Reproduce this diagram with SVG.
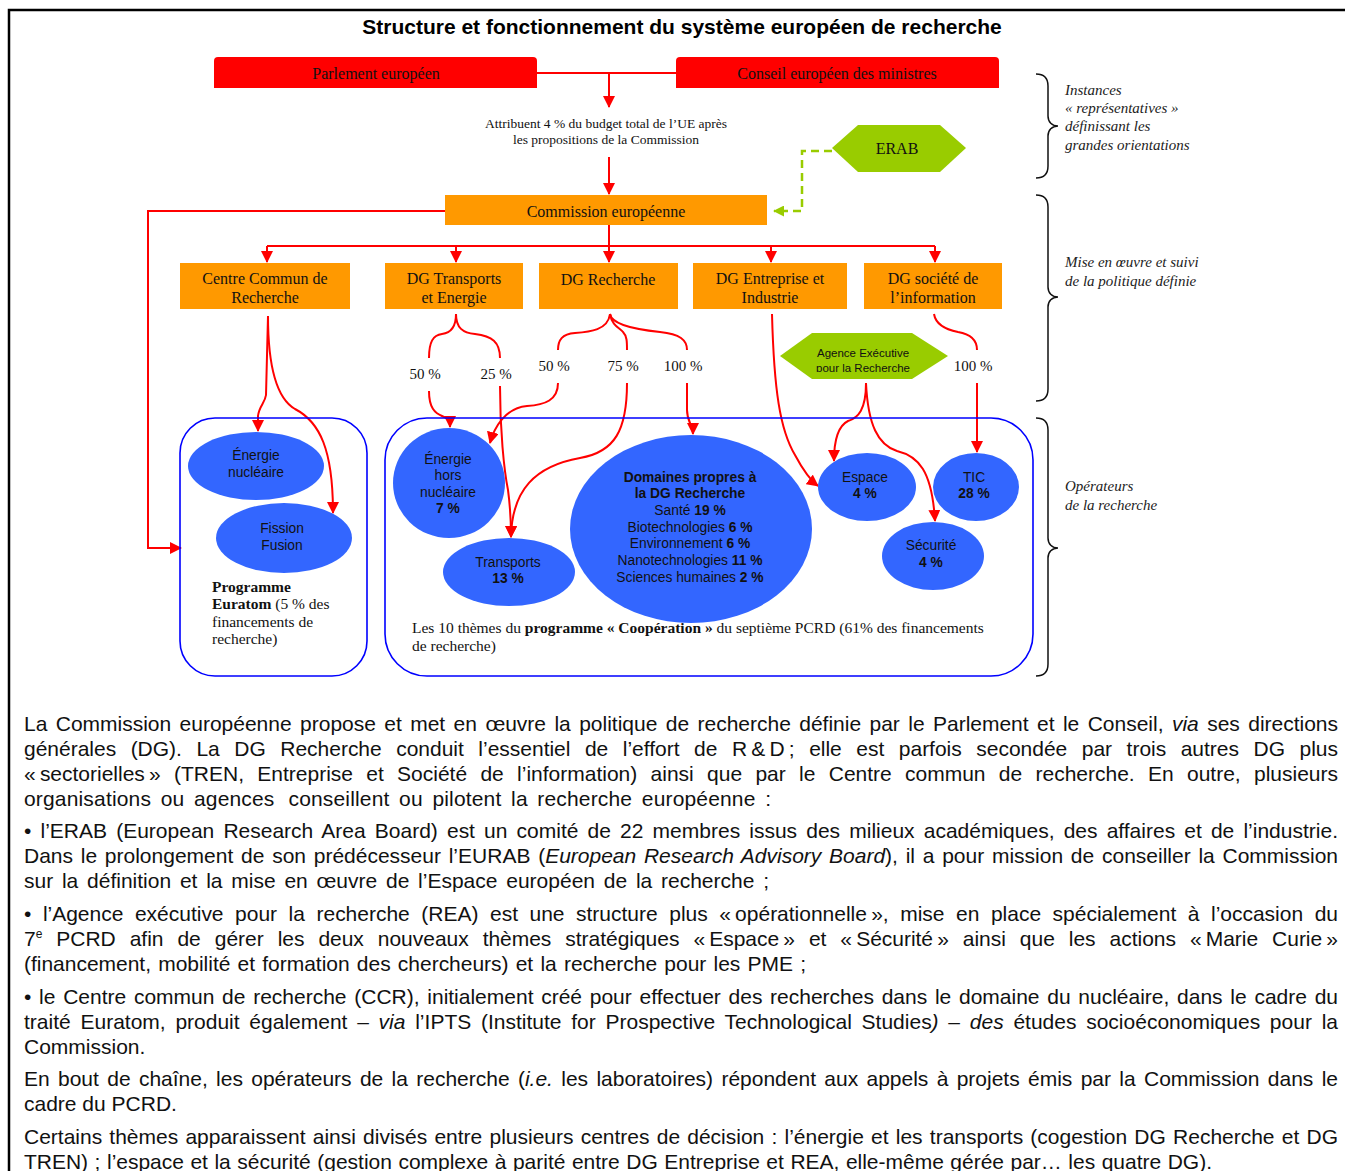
<svg xmlns="http://www.w3.org/2000/svg" width="1345" height="1171" viewBox="0 0 1345 1171">
<defs>
<style>
.r{fill:none;stroke:#ff0000;stroke-width:2}
.ra{marker-end:url(#ar)}
.red{fill:#ff0000}
.or{fill:#ff9900}
.lbl{font-family:"Liberation Serif",serif;font-size:16px;fill:#111;text-anchor:middle}
.pct{font-family:"Liberation Serif",serif;font-size:15px;fill:#111;text-anchor:middle}
.ell{fill:#3366ff}
.et{font-family:"Liberation Sans",Arial,sans-serif;font-size:13.8px;fill:#111;text-anchor:middle}
.b{font-weight:bold}
.i{font-style:italic}
.side{font-family:"Liberation Serif",serif;font-style:italic;font-size:15px;fill:#222}
.body{font-family:"Liberation Sans",Arial,sans-serif;font-size:21px;fill:#111}
.cont{fill:none;stroke:#0000ff;stroke-width:1.6}
.brace{fill:none;stroke:#111;stroke-width:1.5}
</style>
<marker id="ar" viewBox="0 0 12 12" refX="11" refY="6" markerWidth="12" markerHeight="12" markerUnits="userSpaceOnUse" orient="auto"><path d="M0,0 L12,6 L0,12 z" fill="#ff0000"/></marker>
<marker id="ag" viewBox="0 0 12 12" refX="11" refY="6" markerWidth="11" markerHeight="11" markerUnits="userSpaceOnUse" orient="auto"><path d="M0,0 L12,6 L0,12 z" fill="#99cc00"/></marker>
<clipPath id="agclip"><rect x="780" y="330" width="170" height="42"/></clipPath>
</defs>

<g id="frame" fill="none" stroke="#000" stroke-width="2.5">
<path d="M1345,10 L9,10 L9,1171"/>
</g>

<text id="title" x="682" y="34" text-anchor="middle" font-family="Liberation Sans, Arial, sans-serif" font-size="21" font-weight="bold" fill="#000">Structure et fonctionnement du système européen de recherche</text>

<g id="connectors">
<path class="r" d="M537,73 L676,73"/>
<path class="r ra" d="M609,73 L609,107"/>
<path class="r ra" d="M609,157 L609,194"/>
<path class="r ra" d="M445,211 L148,211 L148,548 L181,548"/>
<path class="r ra" d="M609,225 L609,262"/>
<path class="r" d="M267,246 L935,246"/>
<path class="r ra" d="M267,246 L267,262"/>
<path class="r ra" d="M456,246 L456,262"/>
<path class="r ra" d="M771,246 L771,262"/>
<path class="r ra" d="M935,246 L935,262"/>
<path d="M832,151 L802,151 L802,211 L774,211" fill="none" stroke="#99cc00" stroke-width="2.5" stroke-dasharray="8,5" marker-end="url(#ag)"/>
<path class="r ra" d="M268,316 L266,395 C265,403 259,406 258,416 L258,431"/>
<path class="r ra" d="M268,316 C268,365 276,398 295,409 C320,422 333,450 333,513"/>
<path class="r" d="M456,314 C456,328 450,333 442,334 C433,335 429,342 429,358"/>
<path class="r" d="M456,314 C456,328 463,333 475,334 C492,336 500,342 500,358"/>
<path class="r ra" d="M429,391 C429,408 435,413 442,416 C449,419 450,420 450,427"/>
<path class="r ra" d="M500,386 C500,430 504,470 508,490 C510,505 511,520 511,537"/>
<path class="r" d="M610,314 C608,330 590,332 575,333 C562,334 558,340 558,350"/>
<path class="r" d="M610,314 C612,326 620,328 623,332 C627,336 627,342 627,350"/>
<path class="r" d="M610,314 C612,326 640,330 660,332 C680,334 687,340 687,350"/>
<path class="r ra" d="M558,383 C558,400 545,405 527,406 C505,408 494,428 490,443"/>
<path class="r ra" d="M627,383 C627,430 615,452 580,458 C535,466 512,490 511,537"/>
<path class="r ra" d="M687,383 L687,410 C687,422 693,425 693,434"/>
<path class="r ra" d="M772,314 C774,390 780,430 795,455 C803,470 810,480 818,486"/>
<path class="r ra" d="M866,383 C866,410 858,418 848,421 C838,426 834,440 834,461"/>
<path class="r ra" d="M866,383 C868,425 878,445 897,451 C918,456 932,470 935,521"/>
<path class="r" d="M934,314 C936,326 948,330 958,332 C970,334 977,340 977,350"/>
<path class="r ra" d="M977,383 L977,452"/>
</g>

<g id="parlement"><path class="red" d="M214,88 L214,61 Q214,57 218,57 L533,57 Q537,57 537,61 L537,88 Z"/><text class="lbl" x="376" y="79">Parlement européen</text></g>
<g id="conseil"><path class="red" d="M676,88 L676,61 Q676,57 680,57 L995,57 Q999,57 999,61 L999,88 Z"/><text class="lbl" x="837" y="79">Conseil européen des ministres</text></g>
<g id="budget"><text class="lbl" style="font-size:13.5px" x="606" y="128">Attribuent 4 % du budget total de l’UE après</text><text class="lbl" style="font-size:13.5px" x="606" y="144">les propositions de la Commission</text></g>
<g id="erab"><polygon fill="#99cc00" points="832,148 858,125 940,125 966,148 940,172 858,172"/><text class="lbl" x="897" y="154">ERAB</text></g>
<g id="commission"><rect class="or" x="445" y="195" width="322" height="30"/><text class="lbl" x="606" y="217">Commission européenne</text></g>

<g id="ccr"><rect class="or" x="180" y="263" width="170" height="46"/><text class="lbl" x="265" y="284">Centre Commun de</text><text class="lbl" x="265" y="303">Recherche</text></g>
<g id="dgtren"><rect class="or" x="385" y="263" width="138" height="46"/><text class="lbl" x="454" y="284">DG Transports</text><text class="lbl" x="454" y="303">et Energie</text></g>
<g id="dgrech"><rect class="or" x="539" y="263" width="139" height="46"/><text class="lbl" x="608" y="285">DG Recherche</text></g>
<g id="dgent"><rect class="or" x="693" y="263" width="154" height="46"/><text class="lbl" x="770" y="284">DG Entreprise et</text><text class="lbl" x="770" y="303">Industrie</text></g>
<g id="dgsoc"><rect class="or" x="864" y="263" width="138" height="46"/><text class="lbl" x="933" y="284">DG société de</text><text class="lbl" x="933" y="303">l’information</text></g>

<g id="pcts">
<text class="pct" x="425" y="379">50 %</text>
<text class="pct" x="496" y="379">25 %</text>
<text class="pct" x="554" y="371">50 %</text>
<text class="pct" x="623" y="371">75 %</text>
<text class="pct" x="683" y="371">100 %</text>
<text class="pct" x="973" y="371">100 %</text>
</g>

<g id="agence"><polygon fill="#99cc00" points="780,356 812,333 912,333 948,356 912,379 812,379"/><g clip-path="url(#agclip)"><text class="et" style="font-size:11.5px" x="863" y="357">Agence Exécutive</text><text class="et" style="font-size:11.5px" x="863" y="372">pour la Recherche</text></g></g>

<g id="euratom">
<rect class="cont" x="180" y="418" width="187" height="258" rx="35"/>
<text font-family="Liberation Serif, serif" font-size="15.5" fill="#111"><tspan x="212" y="592" font-weight="bold">Programme</tspan><tspan x="212" y="609"><tspan font-weight="bold">Euratom</tspan> (5 % des</tspan><tspan x="212" y="627">financements de</tspan><tspan x="212" y="644">recherche)</tspan></text>
</g>
<g id="cooperation">
<rect class="cont" x="385" y="418" width="648" height="258" rx="42"/>
<text font-family="Liberation Serif, serif" font-size="15.5" fill="#111"><tspan x="412" y="633">Les 10 thèmes du <tspan font-weight="bold">programme « Coopération »</tspan> du septième PCRD (61% des financements</tspan><tspan x="412" y="651">de recherche)</tspan></text>
</g>

<g id="en"><ellipse class="ell" cx="256" cy="466" rx="68" ry="34"/><text class="et" x="256" y="460">Énergie</text><text class="et" x="256" y="477">nucléaire</text></g>
<g id="ff"><ellipse class="ell" cx="284" cy="538" rx="68" ry="35"/><text class="et" x="282" y="533">Fission</text><text class="et" x="282" y="550">Fusion</text></g>
<g id="eh"><ellipse class="ell" cx="449" cy="483" rx="56" ry="55"/><text class="et" x="448" y="464">Énergie</text><text class="et" x="448" y="480">hors</text><text class="et" x="448" y="497">nucléaire</text><text class="et b" x="448" y="513">7 %</text></g>
<g id="tr"><ellipse class="ell" cx="509" cy="572" rx="66" ry="34"/><text class="et" x="508" y="567">Transports</text><text class="et b" x="508" y="583">13 %</text></g>
<g id="dom"><ellipse class="ell" cx="691" cy="529" rx="121" ry="94"/>
<text class="et b" x="690" y="482">Domaines propres à</text>
<text class="et b" x="690" y="498">la DG Recherche</text>
<text class="et" x="690" y="515">Santé <tspan class="b">19 %</tspan></text>
<text class="et" x="690" y="532">Biotechnologies <tspan class="b">6 %</tspan></text>
<text class="et" x="690" y="548">Environnement <tspan class="b">6 %</tspan></text>
<text class="et" x="690" y="565">Nanotechnologies <tspan class="b">11 %</tspan></text>
<text class="et" x="690" y="582">Sciences humaines <tspan class="b">2 %</tspan></text>
</g>
<g id="esp"><ellipse class="ell" cx="867" cy="487" rx="49" ry="34"/><text class="et" x="865" y="482">Espace</text><text class="et b" x="865" y="498">4 %</text></g>
<g id="tic"><ellipse class="ell" cx="976" cy="487" rx="43" ry="34"/><text class="et" x="974" y="482">TIC</text><text class="et b" x="974" y="498">28 %</text></g>
<g id="sec"><ellipse class="ell" cx="933" cy="556" rx="51" ry="34"/><text class="et" x="931" y="550">Sécurité</text><text class="et b" x="931" y="567">4 %</text></g>

<g id="braces">
<path class="brace" d="M1036,74 C1044,74 1048,78 1048,86 L1048,116 C1048,122 1052,126 1058,126 C1052,126 1048,130 1048,136 L1048,166 C1048,174 1044,178 1036,178"/>
<path class="brace" d="M1036,195 C1044,195 1048,199 1048,207 L1048,287 C1048,293 1052,297 1058,297 C1052,297 1048,301 1048,307 L1048,389 C1048,397 1044,401 1036,401"/>
<path class="brace" d="M1036,418 C1044,418 1048,422 1048,430 L1048,538 C1048,544 1052,548 1058,548 C1052,548 1048,552 1048,558 L1048,664 C1048,672 1044,676 1036,676"/>
<text class="side"><tspan x="1065" y="95">Instances</tspan><tspan x="1065" y="113">« représentatives »</tspan><tspan x="1065" y="131">définissant les</tspan><tspan x="1065" y="150">grandes orientations</tspan></text>
<text class="side"><tspan x="1065" y="267">Mise en œuvre et suivi</tspan><tspan x="1065" y="286">de la politique définie</tspan></text>
<text class="side"><tspan x="1065" y="491">Opérateurs</tspan><tspan x="1065" y="510">de la recherche</tspan></text>
</g>

<g id="bodytext" class="body">
<text x="24" y="731" word-spacing="2.6" textLength="1314" lengthAdjust="spacing">La Commission européenne propose et met en œuvre la politique de recherche définie par le Parlement et le Conseil, <tspan class="i">via</tspan> ses directions</text>
<text x="24" y="756" word-spacing="8.7" textLength="1314" lengthAdjust="spacing">générales (DG). La DG Recherche conduit l’essentiel de l’effort de R&#8239;&amp;&#8239;D&#8239;; elle est parfois secondée par trois autres DG plus</text>
<text x="24" y="781" word-spacing="7.5" textLength="1314" lengthAdjust="spacing">«&#8239;sectorielles&#8239;» (TREN, Entreprise et Société de l’information) ainsi que par le Centre commun de recherche. En outre, plusieurs</text>
<text x="24" y="806" word-spacing="3.6" textLength="747" lengthAdjust="spacing">organisations ou agences&#8239; conseillent ou pilotent la recherche européenne :</text>
<text x="24" y="838" word-spacing="3.3" textLength="1314" lengthAdjust="spacing">• l’ERAB (European Research Area Board) est un comité de 22 membres issus des milieux académiques, des affaires et de l’industrie.</text>
<text x="24" y="863" word-spacing="1.9" textLength="1314" lengthAdjust="spacing">Dans le prolongement de son prédécesseur l’EURAB (<tspan class="i">European Research Advisory Board</tspan>), il a pour mission de conseiller la Commission</text>
<text x="24" y="888" word-spacing="2.9" textLength="745" lengthAdjust="spacing">sur la définition et la mise en œuvre de l’Espace européen de la recherche ;</text>
<text x="24" y="921" word-spacing="5.7" textLength="1314" lengthAdjust="spacing">• l’Agence exécutive pour la recherche (REA) est une structure plus «&#8239;opérationnelle&#8239;», mise en place spécialement à l’occasion du</text>
<text x="24" y="946" word-spacing="8.2" textLength="1314" lengthAdjust="spacing">7<tspan font-size="12" dy="-8">e</tspan><tspan dy="8"> PCRD afin de gérer les deux nouveaux thèmes stratégiques «&#8239;Espace&#8239;» et «&#8239;Sécurité&#8239;» ainsi que les actions «&#8239;Marie Curie&#8239;»</tspan></text>
<text x="24" y="971" word-spacing="1.4" textLength="782" lengthAdjust="spacing">(financement, mobilité et formation des chercheurs) et la recherche pour les PME ;</text>
<text x="24" y="1004" word-spacing="1.9" textLength="1314" lengthAdjust="spacing">• le Centre commun de recherche (CCR), initialement créé pour effectuer des recherches dans le domaine du nucléaire, dans le cadre du</text>
<text x="24" y="1029" word-spacing="3.9" textLength="1314" lengthAdjust="spacing">traité Euratom, produit également – <tspan class="i">via</tspan> l’IPTS (Institute for Prospective Technological Studies<tspan class="i">)</tspan> – <tspan class="i">des</tspan> études socioéconomiques pour la</text>
<text x="24" y="1054">Commission.</text>
<text x="24" y="1086" word-spacing="2.5" textLength="1314" lengthAdjust="spacing">En bout de chaîne, les opérateurs de la recherche (<tspan class="i">i.e.</tspan> les laboratoires) répondent aux appels à projets émis par la Commission dans le</text>
<text x="24" y="1111">cadre du PCRD.</text>
<text x="24" y="1144" word-spacing="1.4" textLength="1314" lengthAdjust="spacing">Certains thèmes apparaissent ainsi divisés entre plusieurs centres de décision : l’énergie et les transports (cogestion DG Recherche et DG</text>
<text x="24" y="1169" word-spacing="0.7" textLength="1188" lengthAdjust="spacing">TREN) ; l’espace et la sécurité (gestion complexe à parité entre DG Entreprise et REA, elle-même gérée par… les quatre DG).</text>
</g>
</svg>
